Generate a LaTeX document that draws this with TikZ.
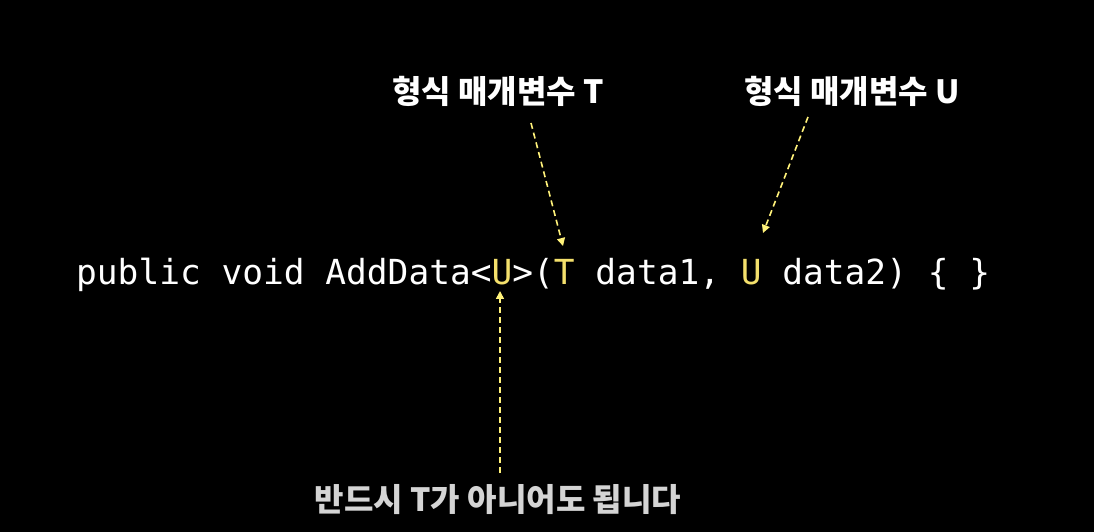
\documentclass[tikz,border=0pt]{standalone}
\usepackage{fontspec}
\setmonofont{DejaVu Sans Mono}
\newfontfamily\kr{Noto Sans CJK KR}
\usetikzlibrary{arrows.meta}
\definecolor{codey}{HTML}{F4E06C}
\definecolor{arry}{HTML}{FFF27A}
\definecolor{lbgray}{HTML}{D4D4D4}
\tikzset{
  lbl/.style={inner sep=0pt, anchor=base, text=white, font=\kr\bfseries\fontsize{32bp}{37bp}\selectfont},
  pointer/.style={draw=arry, line width=1.6bp, dash pattern=on 6bp off 4bp, -{Triangle[length=8bp,width=8bp]}}
}
\begin{document}
\begin{tikzpicture}[x=1bp,y=-1bp]
\fill[black] (0,0) rectangle (1094,532);
\useasboundingbox (0,0) rectangle (1094,532);
\node[inner sep=0pt, anchor=base west, text=white, font=\ttfamily\fontsize{34.5bp}{40bp}\selectfont] (code) at (76,285)
  {public void AddData<\textcolor{codey}{U}>(\textcolor{codey}{T} data1, \textcolor{codey}{U} data2) \{ \}};
\node[lbl] (lt) at (498,104) {형식 매개변수 T};
\node[lbl] (lu) at (852,104) {형식 매개변수 U};
\node[lbl, text=lbgray] (lb) at (498,511) {반드시 T가 아니어도 됩니다};
\coordinate (tT) at (563,246);
\coordinate (tU) at (763,233);
\coordinate (tU0) at (500,291);
\coordinate (sT) at (531,123);
\coordinate (sU) at (808,117);
\coordinate (sB) at (500,473);
\draw[pointer] (sT) -- (tT);
\draw[pointer] (sU) -- (tU);
\draw[pointer] (sB) -- (tU0);
\end{tikzpicture}
\end{document}
